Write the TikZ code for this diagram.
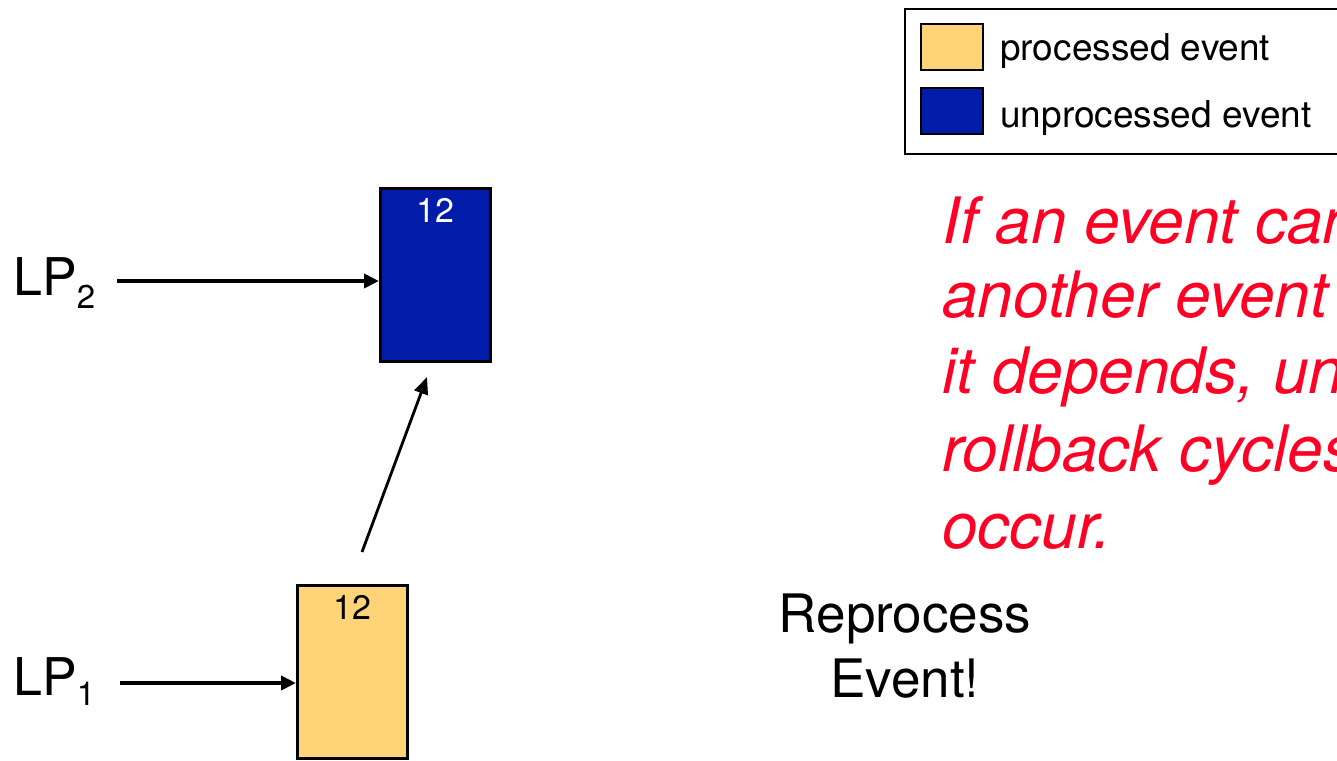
\documentclass[tikz,border=0pt]{standalone}
\usepackage{fontspec}
\setmainfont{TeX Gyre Heros}
\usetikzlibrary{arrows.meta,calc}
\definecolor{procY}{RGB}{255,212,121}
\definecolor{unprocB}{RGB}{2,28,170}
\definecolor{noteR}{RGB}{255,0,36}
\begin{document}
\begin{tikzpicture}[x=1pt,y=-1pt,
  evbox/.style={draw=black, line width=2.8pt, minimum width=110pt, minimum height=173pt, inner sep=0pt, anchor=north west},
  swatch/.style={draw=black, line width=1.8pt, minimum width=62pt, minimum height=46pt, inner sep=0pt, anchor=north west},
  conn/.style={line width=3.8pt, -{Triangle[length=15pt,width=14pt]}},
  conn2/.style={line width=2.8pt, -{Triangle[length=17pt,width=14pt]}},
  lplabel/.style={anchor=base west, inner sep=0pt, font=\fontsize{52}{52}\selectfont},
  num/.style={anchor=base, inner sep=0pt, font=\fontsize{34}{34}\selectfont},
  legtext/.style={anchor=base west, inner sep=0pt, font=\fontsize{37}{37}\selectfont},
  redline/.style={anchor=base west, inner sep=0pt, text=noteR, font=\fontsize{64}{64}\selectfont\itshape},
  blackline/.style={anchor=base, inner sep=0pt, font=\fontsize{53}{53}\selectfont}
]
\useasboundingbox (0,0) rectangle (1337,760);
\clip (0,0) rectangle (1337,760);

% legend
\node[draw=black, line width=2pt, anchor=north west, minimum width=470pt, minimum height=145pt, inner sep=0pt] (legend) at (904,8) {};
\node[swatch, fill=procY] (sw1) at (920,23) {};
\node[swatch, fill=unprocB] (sw2) at (920,87) {};
\node[legtext] (lt1) at (1000,60) {processed event};
\node[legtext] (lt2) at (1000,127) {unprocessed event};

% event boxes
\node[evbox, fill=unprocB] (e2) at (379,187) {};
\node[num, text=white] (n2) at (435,222) {12};
\node[evbox, fill=procY] (e1) at (296,584) {};
\node[num] (n1) at (352,619) {12};

% LP labels
\node[lplabel] (lp2) at (13,295) {LP\raisebox{-13pt}{\fontsize{33}{33}\selectfont 2}};
\node[lplabel] (lp1) at (13,695) {LP\raisebox{-10pt}{\fontsize{33}{33}\selectfont 1}};

\coordinate (a2) at (117,281);
\coordinate (a1) at (120,683);
\draw[conn] (a2) -- (a2 -| e2.west);
\draw[conn] (a1) -- (a1 -| e1.west);

% diagonal message arrow
\coordinate (mtail) at (362,552);
\coordinate (mhead) at (427,377);
\draw[conn2] (mtail) -- (mhead);

% red note (runs past the right edge, as in the reference)
\node[redline] (r1) at (942,243) {If an event can roll back};
\node[redline] (r2) at (942,317) {another event on which};
\node[redline] (r3) at (942,393) {it depends, unbounded};
\node[redline] (r4) at (942,471) {rollback cycles may};
\node[redline] (r5) at (942,548) {occur.};

% reprocess
\node[blackline] (rep1) at (905,632) {Reprocess};
\node[blackline] (rep2) at (905,697) {Event!};
\end{tikzpicture}
\end{document}
